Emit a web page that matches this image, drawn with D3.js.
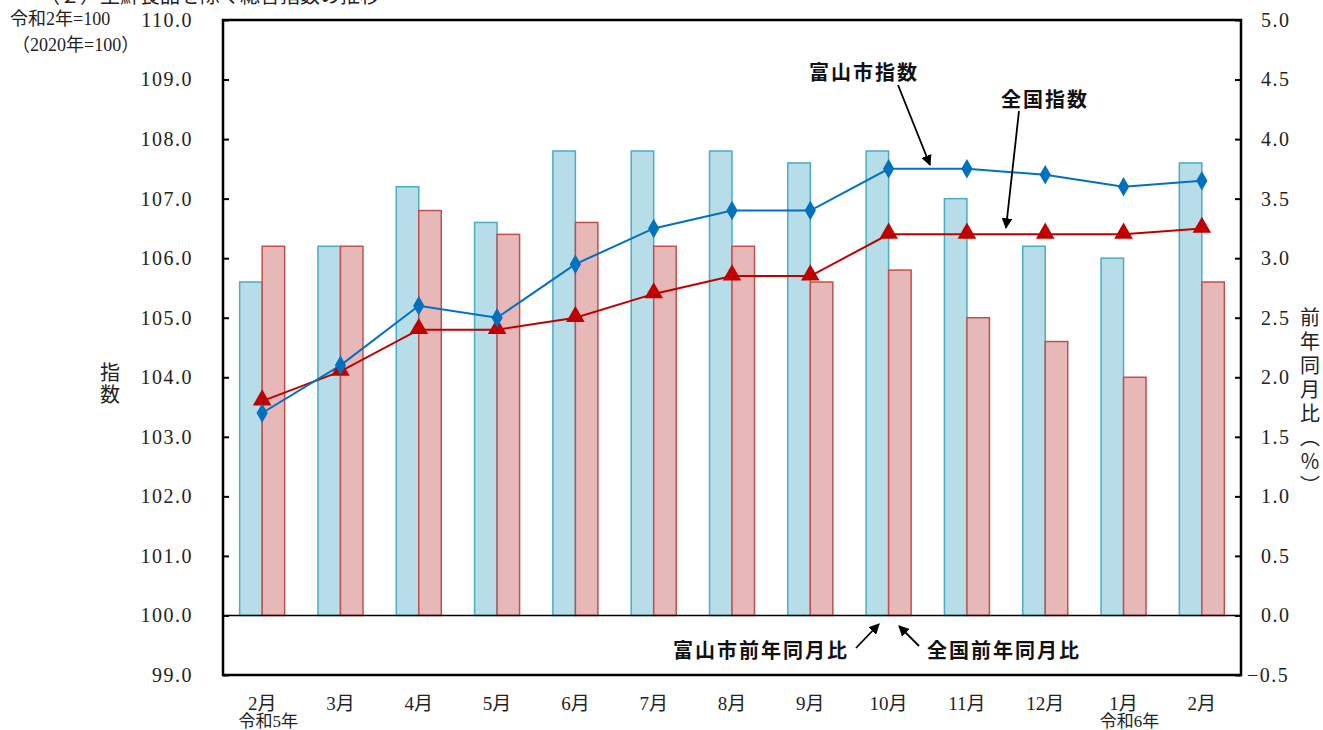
<!DOCTYPE html>
<html>
<head>
<meta charset="utf-8">
<script src="https://d3js.org/d3.v7.min.js"></script>
<style>
  body { margin: 0; background: #fff; }
  svg { display: block; }
  .note { font-family: "Noto Sans CJK JP", sans-serif; font-size: 20px; font-weight: bold; fill: #111; letter-spacing: 2px; }
  .lab { font-family: "Noto Sans CJK JP", sans-serif; font-size: 18px; fill: #222; }
</style>
</head>
<body>
<div id="chart"></div>
<script>
// months
const months = ["2月", "3月", "4月", "5月", "6月", "7月", "8月", "9月", "10月", "11月", "12月", "1月", "2月"];
const yearLabels = ["令和5年", "", "", "", "", "", "", "", "", "", "", "令和6年", ""];

// 前年同月比 (%)
const toyamaYoY = [2.8, 3.1, 3.6, 3.3, 3.9, 3.9, 3.9, 3.8, 3.9, 3.5, 3.1, 3.0, 3.8];
const zenkokuYoY = [3.1, 3.1, 3.4, 3.2, 3.3, 3.1, 3.1, 2.8, 2.9, 2.5, 2.3, 2.0, 2.8];

// 指数 (2020=100)
const toyamaIdx = [103.4, 104.2, 105.2, 105.0, 105.9, 106.5, 106.8, 106.8, 107.5, 107.5, 107.4, 107.2, 107.3];
const zenkokuIdx = [103.6, 104.1, 104.8, 104.8, 105.0, 105.4, 105.7, 105.7, 106.4, 106.4, 106.4, 106.4, 106.5];

// tick values
const leftTicks = [99, 100, 101, 102, 103, 104, 105, 106, 107, 108, 109, 110];
const rightTicks = [-0.5, 0, 0.5, 1, 1.5, 2, 2.5, 3, 3.5, 4, 4.5, 5];

const serif = '"Liberation Serif", "DejaVu Serif", "Noto Sans CJK JP", serif';

const width = 1323, height = 730;
const margin = { top: 20, right: 82, bottom: 55, left: 223 };

const svg = d3.select("#chart").append("svg")
    .attr("width", width)
    .attr("height", height);

const idx = d3.range(months.length);

const x = d3.scaleBand()
    .domain(idx)
    .range([margin.left, width - margin.right]);

const yL = d3.scaleLinear()
    .domain([99, 110])
    .range([height - margin.bottom, margin.top]);

const yR = d3.scaleLinear()
    .domain([-0.5, 5])
    .range([height - margin.bottom, margin.top]);

const barW = 22.5;
const cx = i => x(i) + x.bandwidth() / 2;

// bars
svg.append("g").selectAll("rect")
    .data(toyamaYoY)
    .enter().append("rect")
    .attr("x", (d, i) => cx(i) - barW)
    .attr("y", d => yR(d))
    .attr("width", barW)
    .attr("height", d => yR(0) - yR(d))
    .attr("fill", "#b7dde8")
    .attr("stroke", "#4bacc6")
    .attr("stroke-width", 1.5);

svg.append("g").selectAll("rect")
    .data(zenkokuYoY)
    .enter().append("rect")
    .attr("x", (d, i) => cx(i))
    .attr("y", d => yR(d))
    .attr("width", barW)
    .attr("height", d => yR(0) - yR(d))
    .attr("fill", "#e6b9b8")
    .attr("stroke", "#c0504d")
    .attr("stroke-width", 1.5);

// zero line
svg.append("line")
    .attr("x1", margin.left).attr("x2", width - margin.right)
    .attr("y1", yR(0)).attr("y2", yR(0))
    .attr("stroke", "#000").attr("stroke-width", 1.5);

// lines
const line = d3.line().x((d, i) => cx(i)).y(d => yL(d));

svg.append("path")
    .datum(zenkokuIdx)
    .attr("d", line)
    .attr("fill", "none")
    .attr("stroke", "#c00000")
    .attr("stroke-width", 2);

svg.append("path")
    .datum(toyamaIdx)
    .attr("d", line)
    .attr("fill", "none")
    .attr("stroke", "#0070c0")
    .attr("stroke-width", 2);

svg.append("g").selectAll("path")
    .data(zenkokuIdx)
    .enter().append("path")
    .attr("d", d3.symbol().type(d3.symbolTriangle).size(150))
    .attr("transform", (d, i) => `translate(${cx(i)},${yL(d) - 1})`)
    .attr("fill", "#c00000");

svg.append("g").selectAll("path")
    .data(toyamaIdx)
    .enter().append("path")
    .attr("d", d3.symbol().type(d3.symbolDiamond).size(110))
    .attr("transform", (d, i) => `translate(${cx(i)},${yL(d)})`)
    .attr("fill", "#0070c0");

// frame
svg.append("rect")
    .attr("x", margin.left).attr("y", margin.top)
    .attr("width", width - margin.left - margin.right)
    .attr("height", height - margin.top - margin.bottom)
    .attr("fill", "none")
    .attr("stroke", "#000")
    .attr("stroke-width", 2.5);

// axes
const axL = svg.append("g")
    .attr("transform", `translate(${margin.left},0)`)
    .call(d3.axisLeft(yL).tickValues(leftTicks).tickSize(-6).tickPadding(30).tickFormat(d3.format(".1f")));
axL.select(".domain").remove();
axL.selectAll("line").attr("stroke-width", 2);
axL.selectAll("text")
    .style("font-family", serif).style("font-size", "20px")
    .style("letter-spacing", "1.5px").attr("fill", "#222");

const axR = svg.append("g")
    .attr("transform", `translate(${width - margin.right},0)`)
    .call(d3.axisRight(yR).tickValues(rightTicks).tickSize(-6).tickPadding(20)
        .tickFormat(d => d < 0 ? "\u2212" + d3.format(".1f")(-d) : d3.format(".1f")(d)));
axR.select(".domain").remove();
axR.selectAll("line").attr("stroke-width", 2);
axR.selectAll("text")
    .style("font-family", serif).style("font-size", "20px")
    .style("letter-spacing", "1.5px").attr("fill", "#222")
    .attr("dx", d => d < 0 ? -14 : 0);

// category labels
svg.append("g").selectAll("text")
    .data(months)
    .enter().append("text")
    .attr("x", (d, i) => cx(i))
    .attr("y", 710)
    .attr("text-anchor", "middle")
    .style("font-family", serif).style("font-size", "19px").attr("fill", "#222")
    .text(d => d);

svg.append("g").selectAll("text")
    .data(yearLabels)
    .enter().append("text")
    .attr("x", (d, i) => cx(i) + 6)
    .attr("y", 727)
    .attr("text-anchor", "middle")
    .style("font-family", serif).style("font-size", "17px").attr("fill", "#222")
    .text(d => d);

// title (cut off at top)
svg.append("text")
    .attr("class", "lab")
    .attr("x", 40).attr("y", 3)
    .style("font-size", "20px")
    .text("（２）生鮮食品を除く総合指数の推移");

svg.append("text").attr("class", "lab")
    .attr("x", 10).attr("y", 25).style("font-size", "18px")
    .style("font-family", serif)
    .text("令和2年=100");
svg.append("text").attr("class", "lab")
    .attr("x", 12).attr("y", 51).style("font-size", "18px")
    .style("font-family", serif)
    .text("（2020年=100）");

// axis titles
svg.append("text").attr("class", "lab")
    .attr("x", 110).attr("y", 362)
    .style("writing-mode", "vertical-rl")
    .style("font-size", "20px")
    .style("letter-spacing", "2px")
    .text("指数");

svg.append("text").attr("class", "lab")
    .attr("x", 1310).attr("y", 307)
    .style("writing-mode", "vertical-rl")
    .style("font-size", "20px")
    .style("letter-spacing", "4px")
    .text("前年同月比（％）");

// annotations
const notes = [
    { t: "富山市指数", x: 864, y: 80, a: [898, 85, 930, 165] },
    { t: "全国指数", x: 1045, y: 107, a: [1019, 111, 1006, 228] },
    { t: "富山市前年同月比", x: 761, y: 658, a: [856, 648, 879, 624] },
    { t: "全国前年同月比", x: 1004, y: 658, a: [919, 646, 899, 626] }
];

svg.append("defs").append("marker")
    .attr("id", "arr")
    .attr("viewBox", "0 0 10 10")
    .attr("refX", 9).attr("refY", 5)
    .attr("markerWidth", 6).attr("markerHeight", 6)
    .attr("orient", "auto")
    .append("path")
    .attr("d", "M0,0 L10,5 L0,10 z")
    .attr("fill", "#000");

notes.forEach(n => {
    svg.append("text").attr("class", "note")
        .attr("x", n.x).attr("y", n.y)
        .attr("text-anchor", "middle")
        .text(n.t);
    svg.append("line")
        .attr("x1", n.a[0]).attr("y1", n.a[1])
        .attr("x2", n.a[2]).attr("y2", n.a[3])
        .attr("stroke", "#000").attr("stroke-width", 1.8)
        .attr("marker-end", "url(#arr)");
});
</script>
</body>
</html>
